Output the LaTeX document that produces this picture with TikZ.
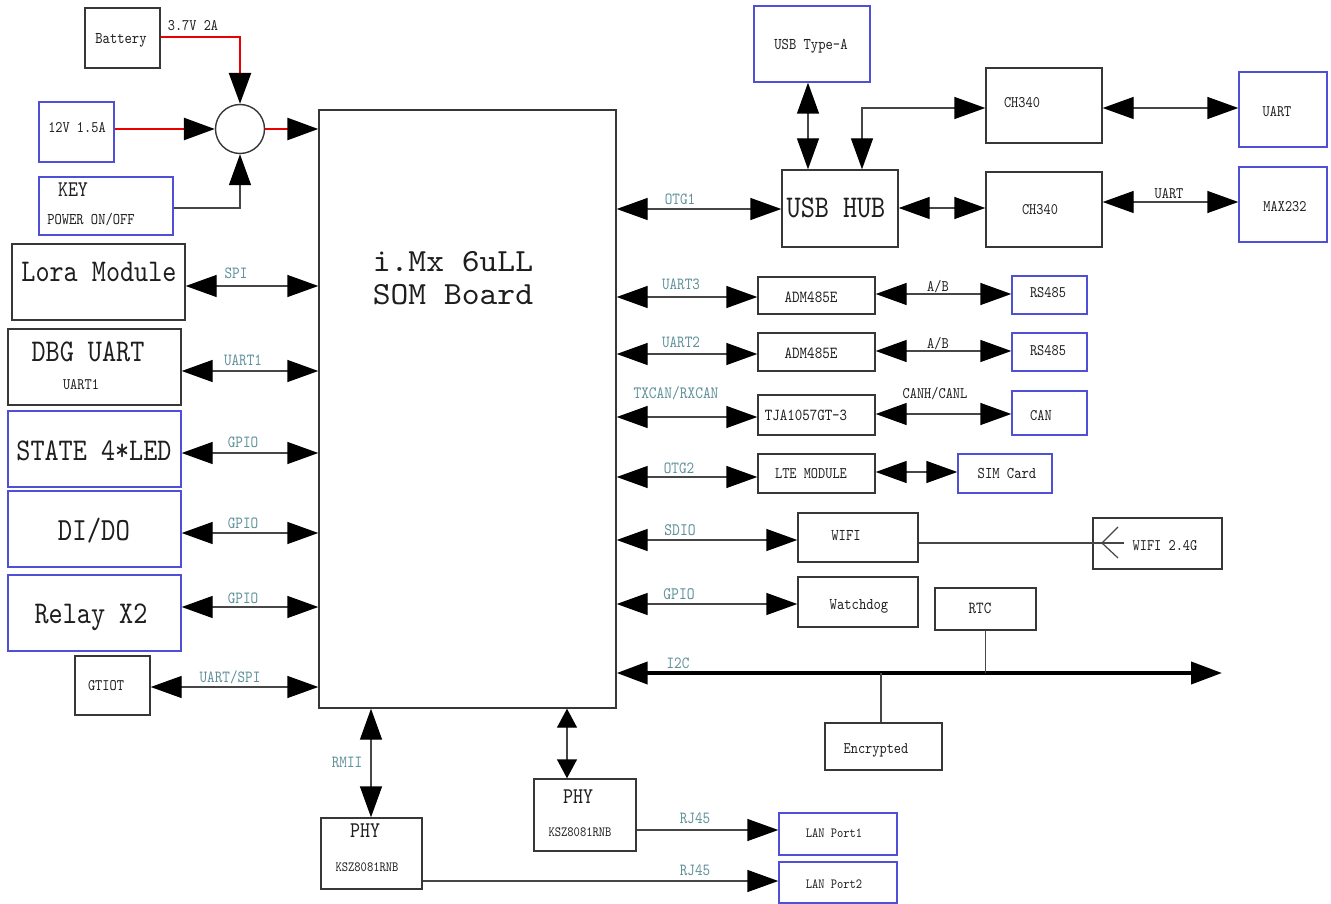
\documentclass[tikz,border=0pt]{standalone}
\usepackage{fontspec}
\setmainfont{lmmono10-regular.otf}[FakeStretch=0.85]
\newfontfamily\somfont{lmmono10-regular.otf}[FakeStretch=1.05]
\usetikzlibrary{arrows.meta}
\definecolor{bxgray}{RGB}{55,55,55}
\definecolor{bxblue}{RGB}{80,80,215}
\definecolor{lngray}{RGB}{70,70,70}
\definecolor{lblteal}{RGB}{95,145,155}
\definecolor{pwrred}{RGB}{235,0,0}
\definecolor{txtdark}{RGB}{30,30,30}
\newcommand{\myfs}[1]{\fontsize{#1}{#1}\selectfont}
\begin{document}
\begin{tikzpicture}[x=1pt,y=-1pt,
  >={Triangle[length=31pt,width=22pt,color=black,fill=black]},
  bx/.style={draw=bxgray,line width=1.4pt,inner sep=0pt},
  bb/.style={bx,draw=bxblue},
  txt/.style={inner sep=0pt,anchor=base,text=txtdark,font=\myfs{16.1}},
  bigt/.style={txt,font=\myfs{31.6}},
  lbl/.style={inner sep=0pt,anchor=base,text=lblteal,font=\myfs{17}},
  ln/.style={draw=lngray,line width=1.4pt},
  pw/.style={draw=pwrred,line width=2.6pt},
  blktip/.style={-{Triangle[length=31pt,width=22pt,color=black,fill=black]}},
  smtip/.style={{Triangle[length=19pt,width=20pt,color=black,fill=black]}-{Triangle[length=19pt,width=20pt,color=black,fill=black]}},
]
\fill[white] (0,0) rectangle (1331,904);
\useasboundingbox (0,0) rectangle (1331,904);

% ---------- power ----------
\node[bx,minimum width=75pt,minimum height=60pt] (battery) at (122.5,38) {};
\node[txt,font=\myfs{16.4}] (batteryt) at (121,44) {Battery};
\node[bb,minimum width=75pt,minimum height=60pt] (v12) at (76.5,132) {};
\node[txt] (v12t) at (77,133) {12V 1.5A};
\node[bb,minimum width=134pt,minimum height=58pt] (key) at (106,206) {};
\node[txt,font=\myfs{22.4}] (keyt) at (73,197) {KEY};
\node[txt,font=\myfs{16.3}] (keyp) at (91,225) {POWER ON/OFF};
\node[draw=bxgray,line width=1.4pt,circle,minimum size=49pt,inner sep=0pt] (mux) at (240,129) {};
\node[txt] (battv) at (193,31) {3.7V 2A};

% ---------- SOM ----------
\node[bx,minimum width=297pt,minimum height=598pt] (som) at (467.5,409) {};
\node[txt,font=\somfont\myfs{32.3}] (som1) at (453,272) {i.Mx 6uLL};
\node[txt,font=\somfont\myfs{32.3}] (som2) at (453,305) {SOM Board};

\draw[pw,blktip] (battery.east |- 0,37) -| (mux.north);
\draw[pw,blktip] (v12.east |- mux.west) -- (mux.west);
\draw[pw,blktip] (mux.east) -- (mux.east -| som.west);
\draw[ln,->] (key.east |- 0,208) -| (mux.south);

% ---------- left column ----------
\node[bx,minimum width=173pt,minimum height=76pt] (lora) at (98.5,282) {};
\node[bigt] (lorat) at (99,282) {Lora Module};
\node[bx,minimum width=173pt,minimum height=76pt] (dbg) at (94.5,367) {};
\node[bigt] (dbgt) at (88,361) {DBG UART};
\node[txt] (dbgs) at (81,389) {UART1};
\node[bb,minimum width=173pt,minimum height=76pt] (led) at (94.5,449) {};
\node[bigt] (ledt) at (94,460) {STATE 4*LED};
\node[bb,minimum width=173pt,minimum height=76pt] (dido) at (94.5,529) {};
\node[bigt,font=\myfs{32.3}] (didot) at (94,540) {DI/DO};
\node[bb,minimum width=173pt,minimum height=76pt] (relay) at (94.5,613) {};
\node[bigt] (relayt) at (91,623) {Relay X2};
\node[bx,minimum width=75pt,minimum height=59pt] (gtiot) at (112.5,685.5) {};
\node[txt] (gtiott) at (106,690) {GTIOT};

\draw[ln,<->] (lora.east |- 0,286) -- (som.west |- 0,286);
\node[lbl] (l1) at (236,279) {SPI};
\draw[ln,<->] (dbg.east |- 0,371) -- (som.west |- 0,371);
\node[lbl] (l2) at (243,365) {UART1};
\draw[ln,<->] (led.east |- 0,453) -- (som.west |- 0,453);
\node[lbl] (l3) at (243,447) {GPIO};
\draw[ln,<->] (dido.east |- 0,533) -- (som.west |- 0,533);
\node[lbl] (l4) at (243,528) {GPIO};
\draw[ln,<->] (relay.east |- 0,607) -- (som.west |- 0,607);
\node[lbl] (l5) at (243,603) {GPIO};
\draw[ln,<->] (gtiot.east |- 0,687) -- (som.west |- 0,687);
\node[lbl] (l6) at (230,682) {UART/SPI};

% ---------- USB ----------
\node[bb,minimum width=116pt,minimum height=76pt] (usba) at (812,44) {};
\node[txt,font=\myfs{16.4}] (usbat) at (811,50) {USB Type-A};
\node[bx,minimum width=116pt,minimum height=77pt] (hub) at (840,208.5) {};
\node[bigt] (hubt) at (836,218) {USB HUB};
\node[bx,minimum width=116pt,minimum height=75pt] (ch1) at (1044,105.5) {};
\node[txt] (ch1t) at (1022,108) {CH340};
\node[bb,minimum width=88pt,minimum height=75pt] (uart) at (1283,109.5) {};
\node[txt] (uartt) at (1277,117) {UART};
\node[bx,minimum width=116pt,minimum height=75pt] (ch2) at (1044,209.5) {};
\node[txt] (ch2t) at (1040,215) {CH340};
\node[bb,minimum width=88pt,minimum height=75pt] (max) at (1283,204.5) {};
\node[txt] (maxt) at (1285,212) {MAX232};

\draw[ln,<->] (som.east |- 0,209) -- (hub.west |- 0,209);
\node[lbl] (l7) at (680,205) {OTG1};
\draw[ln,<->] (usba.south -| 808,0) -- (hub.north -| 808,0);
\draw[ln,<->] (ch1.west |- 0,108) -| (hub.north -| 862,0);
\draw[ln,<->] (ch1.east |- 0,108) -- (uart.west |- 0,108);
\draw[ln,<->] (hub.east |- 0,208) -- (ch2.west |- 0,208);
\draw[ln,<->] (ch2.east |- 0,202) -- (max.west |- 0,202);
\node[txt] (l8) at (1169,199) {UART};

% ---------- interface rows ----------
\node[bx,minimum width=117pt,minimum height=37pt] (adm1) at (816.5,295.5) {};
\node[txt,font=\myfs{16.9}] (adm1t) at (811,302) {ADM485E};
\node[bb,minimum width=75pt,minimum height=38pt] (rs1) at (1049.5,295) {};
\node[txt] (rs1t) at (1048,298) {RS485};
\draw[ln,<->] (som.east |- 0,297) -- (adm1.west |- 0,297);
\node[lbl] (l9) at (681,290) {UART3};
\draw[ln,<->] (adm1.east |- 0,294) -- (rs1.west |- 0,294);
\node[txt] (l10) at (938,291) {A/B};

\node[bx,minimum width=117pt,minimum height=38pt] (adm2) at (816.5,352) {};
\node[txt,font=\myfs{16.9}] (adm2t) at (811,358) {ADM485E};
\node[bb,minimum width=75pt,minimum height=38pt] (rs2) at (1049.5,352) {};
\node[txt] (rs2t) at (1048,355) {RS485};
\draw[ln,<->] (som.east |- 0,354) -- (adm2.west |- 0,354);
\node[lbl] (l11) at (681,347) {UART2};
\draw[ln,<->] (adm2.east |- 0,351) -- (rs2.west |- 0,351);
\node[txt] (l12) at (938,348) {A/B};

\node[bx,minimum width=117pt,minimum height=40pt] (tja) at (816.5,415) {};
\node[txt,font=\myfs{16.8}] (tjat) at (806,420) {TJA1057GT-3};
\node[bb,minimum width=75pt,minimum height=44pt] (can) at (1049.5,413) {};
\node[txt] (cant) at (1041,420) {CAN};
\draw[ln,<->] (som.east |- 0,417) -- (tja.west |- 0,417);
\node[lbl,font=\myfs{17.3}] (l13) at (676,398) {TXCAN/RXCAN};
\draw[ln,<->] (tja.east |- 0,414) -- (can.west |- 0,414);
\node[txt] (l14) at (935,398) {CANH/CANL};

\node[bx,minimum width=117pt,minimum height=39pt] (lte) at (816.5,473.5) {};
\node[txt] (ltet) at (811,478) {LTE MODULE};
\node[bb,minimum width=94pt,minimum height=39pt] (sim) at (1005,473.5) {};
\node[txt,font=\myfs{16.4}] (simt) at (1007,478) {SIM Card};
\draw[ln,<->] (som.east |- 0,477) -- (lte.west |- 0,477);
\node[lbl] (l15) at (679,473) {OTG2};
\draw[ln,<->] (lte.east |- 0,472) -- (sim.west |- 0,472);

% ---------- wifi / watchdog / i2c ----------
\node[bx,minimum width=120pt,minimum height=49pt] (wifi) at (858,537.5) {};
\node[txt,font=\myfs{16.4}] (wifit) at (846,540) {WIFI};
\node[bx,minimum width=129pt,minimum height=51pt] (wifi24) at (1157.5,543.5) {};
\node[txt] (wifi24t) at (1165,550) {WIFI 2.4G};
\draw[ln,<->] (som.east |- 0,540) -- (wifi.west |- 0,540);
\node[lbl,font=\myfs{17.5}] (l16) at (680,535) {SDIO};
\coordinate (ant) at (1102,543);
\coordinate (antend) at (1124,543);
\draw[ln,line width=1.2pt] (wifi.east |- ant) -- (antend);
\draw[ln,line width=1.2pt] (1118,527) -- (ant) -- (1118,558);

\node[bx,minimum width=120pt,minimum height=50pt] (wd) at (858,602) {};
\node[txt,font=\myfs{16.4}] (wdt) at (859,609) {Watchdog};
\draw[ln,<->] (som.east |- 0,604) -- (wd.west |- 0,604);
\node[lbl,font=\myfs{17.5}] (l17) at (679,599) {GPIO};

\node[bx,minimum width=101pt,minimum height=42pt] (rtc) at (985.5,609) {};
\node[txt,font=\myfs{16.9}] (rtct) at (980,613) {RTC};
\node[bx,minimum width=117pt,minimum height=47pt] (enc) at (883.5,746.5) {};
\node[txt] (enct) at (876,753) {Encrypted};

\coordinate (i2cend) at (1222,673);
\draw[draw=black,line width=4pt,<->] (som.east |- i2cend) -- (i2cend);
\node[lbl] (l18) at (678,668) {I2C};
\draw[ln] (rtc.south) -- (rtc.south |- i2cend);
\draw[ln] (enc.north -| 881,0) -- (i2cend -| 881,0);

% ---------- ethernet ----------
\node[bx,minimum width=101pt,minimum height=71pt] (phy1) at (371.5,853.5) {};
\node[txt,font=\myfs{22.4}] (phy1t) at (365,837) {PHY};
\node[txt,font=\myfs{14.1}] (phy1s) at (367,871) {KSZ8081RNB};
\node[bx,minimum width=102pt,minimum height=72pt] (phy2) at (585,815) {};
\node[txt,font=\myfs{22.4}] (phy2t) at (578,803) {PHY};
\node[txt,font=\myfs{14.1}] (phy2s) at (580,836) {KSZ8081RNB};
\node[bb,minimum width=118pt,minimum height=42pt] (lan1) at (838,834) {};
\node[txt,font=\myfs{14}] (lan1t) at (834,837) {LAN Port1};
\node[bb,minimum width=118pt,minimum height=41pt] (lan2) at (838,882.5) {};
\node[txt,font=\myfs{14}] (lan2t) at (834,888) {LAN Port2};

\draw[ln,<->] (som.south -| 371,0) -- (phy1.north -| 371,0);
\node[lbl] (l19) at (347,767) {RMII};
\draw[ln,smtip] (som.south -| 567,0) -- (phy2.north -| 567,0);
\draw[ln,->] (phy2.east |- 0,830) -- (lan1.west |- 0,830);
\node[lbl] (l20) at (695,823) {RJ45};
\draw[ln,->] (phy1.east |- 0,881) -- (lan2.west |- 0,881);
\node[lbl] (l21) at (695,875) {RJ45};
\end{tikzpicture}
\end{document}
